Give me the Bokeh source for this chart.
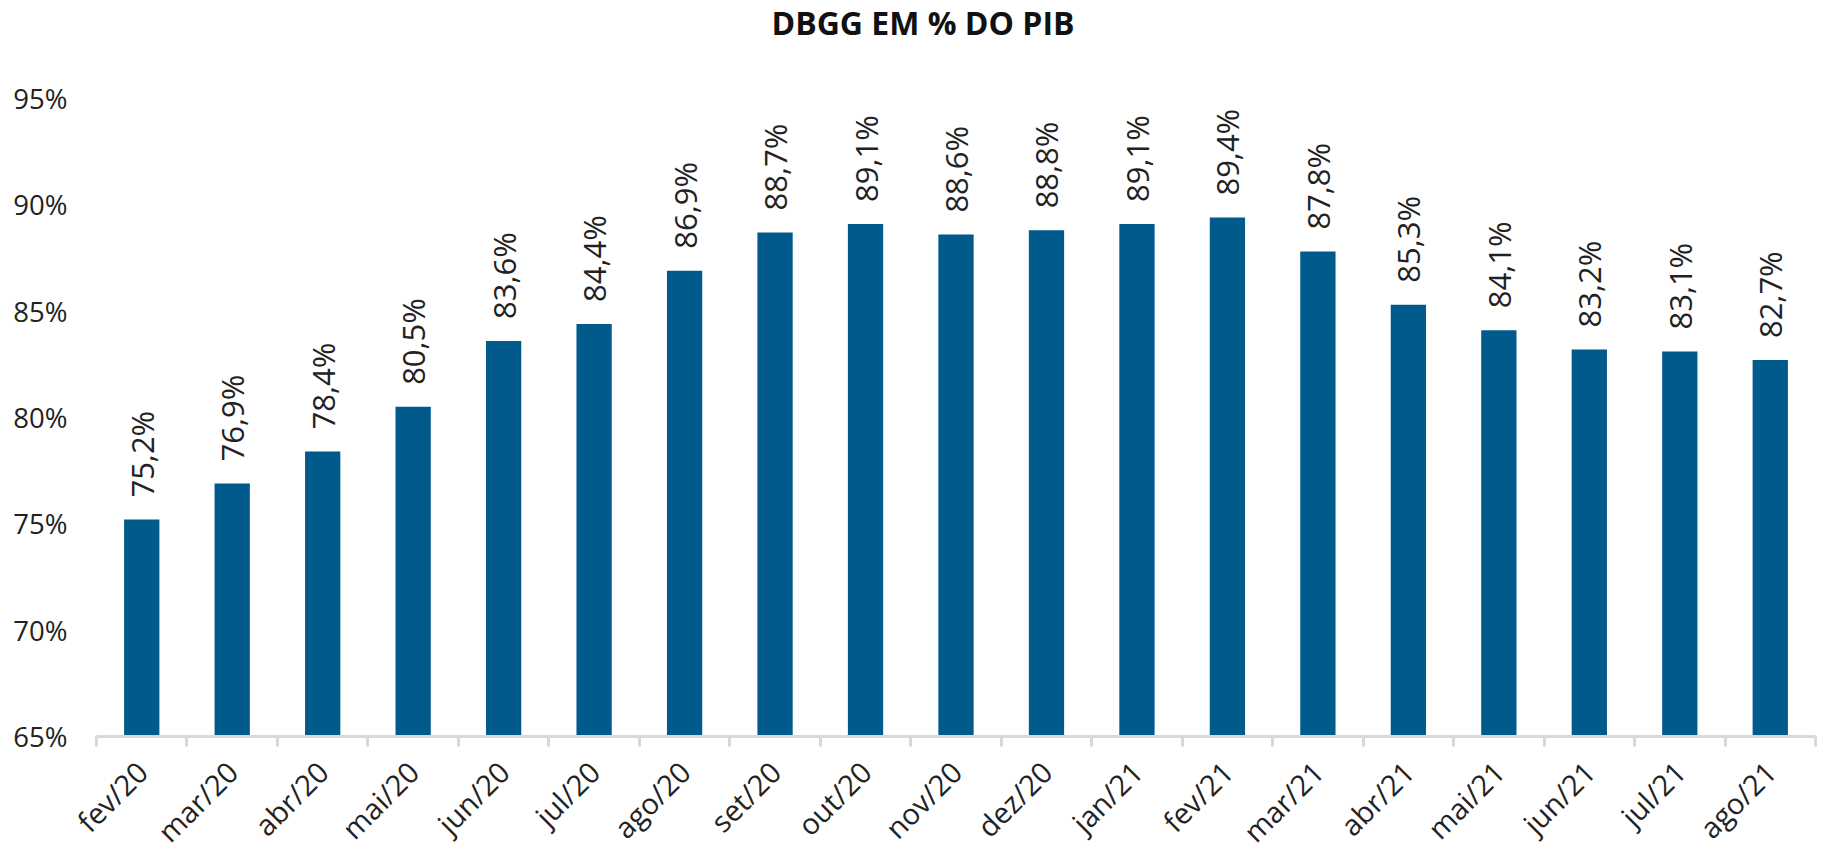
import math
from bokeh.plotting import figure
from bokeh.models import ColumnDataSource, Range1d, FixedTicker, Label
from bokeh.core.properties import value
from bokeh.embed import file_html
from bokeh.resources import INLINE

# ---- data ----
months = ["fev/20", "mar/20", "abr/20", "mai/20", "jun/20", "jul/20", "ago/20", "set/20",
          "out/20", "nov/20", "dez/20", "jan/21", "fev/21", "mar/21", "abr/21", "mai/21",
          "jun/21", "jul/21", "ago/21"]
dbgg = [75.2, 76.9, 78.4, 80.5, 83.6, 84.4, 86.9, 88.7, 89.1, 88.6, 88.8, 89.1, 89.4,
        87.8, 85.3, 84.1, 83.2, 83.1, 82.7]
y_ticks = [65, 70, 75, 80, 85, 90, 95]
title_text = "DBGG EM % DO PIB"

FONT = "Open Sans"
BAR = "#005B8C"
GRAY = "#D9D9D9"
TXT = "#222222"

n = len(months)
centers = [i + 0.5 for i in range(n)]
bounds = [float(i) for i in range(n + 1)]
labels = [f"{v:.1f}".replace(".", ",") + "%" for v in dbgg]
base = y_ticks[0]

src = ColumnDataSource(dict(x=centers, top=dbgg, label=labels))

p = figure(width=1821, height=866, output_backend="svg", toolbar_location=None,
           x_range=Range1d(0, n), y_range=Range1d(y_ticks[0], y_ticks[-1]),
           min_border_left=96, min_border_right=6, min_border_top=98, min_border_bottom=122)
p.outline_line_color = None
p.grid.grid_line_color = None
p.background_fill_color = "white"
p.border_fill_color = "white"

p.vbar(x="x", top="top", bottom=base, width=0.39, source=src, fill_color=BAR, line_color=None)

p.text(x="x", y="top", text="label", source=src, angle=math.pi / 2,
       text_align="left", text_baseline="middle", y_offset=-22,
       text_font=value(FONT), text_font_size="31px", text_color=TXT)

# y axis
p.yaxis.ticker = FixedTicker(ticks=y_ticks)
p.yaxis.major_label_overrides = {t: f"{t}%" for t in y_ticks}
p.yaxis.axis_line_color = None
p.yaxis.major_tick_line_color = None
p.yaxis.minor_tick_line_color = None
p.yaxis.major_tick_out = 0
p.yaxis.major_tick_in = 0
p.yaxis.major_label_standoff = 29
p.yaxis.major_label_text_font = FONT
p.yaxis.major_label_text_font_size = "27.5px"
p.yaxis.major_label_text_color = TXT

# x axis: labels at category centres, ticks at category boundaries
xa = p.xaxis[0]
xa.ticker = FixedTicker(ticks=centers, minor_ticks=bounds)
xa.major_label_overrides = {c: m for c, m in zip(centers, months)}
xa.axis_line_color = GRAY
xa.axis_line_width = 3
xa.major_tick_line_color = None
xa.major_tick_out = 0
xa.major_tick_in = 0
xa.minor_tick_line_color = GRAY
xa.minor_tick_line_width = 3
xa.minor_tick_out = 10
xa.minor_tick_in = 0
xa.major_label_orientation = math.pi / 4
xa.major_label_standoff = 20
xa.major_label_text_font = FONT
xa.major_label_text_font_size = "29px"
xa.major_label_text_color = TXT

# chart title (upper side panel)
p.add_layout(Label(x=n / 2, y=y_ticks[-1], text=title_text,
                   text_align="center", text_baseline="middle",
                   x_offset=-33, y_offset=76,
                   text_font=FONT, text_font_size="32px", text_font_style="bold",
                   text_color="#111111"), "above")

open("out.html", "w").write(file_html(p, INLINE))
